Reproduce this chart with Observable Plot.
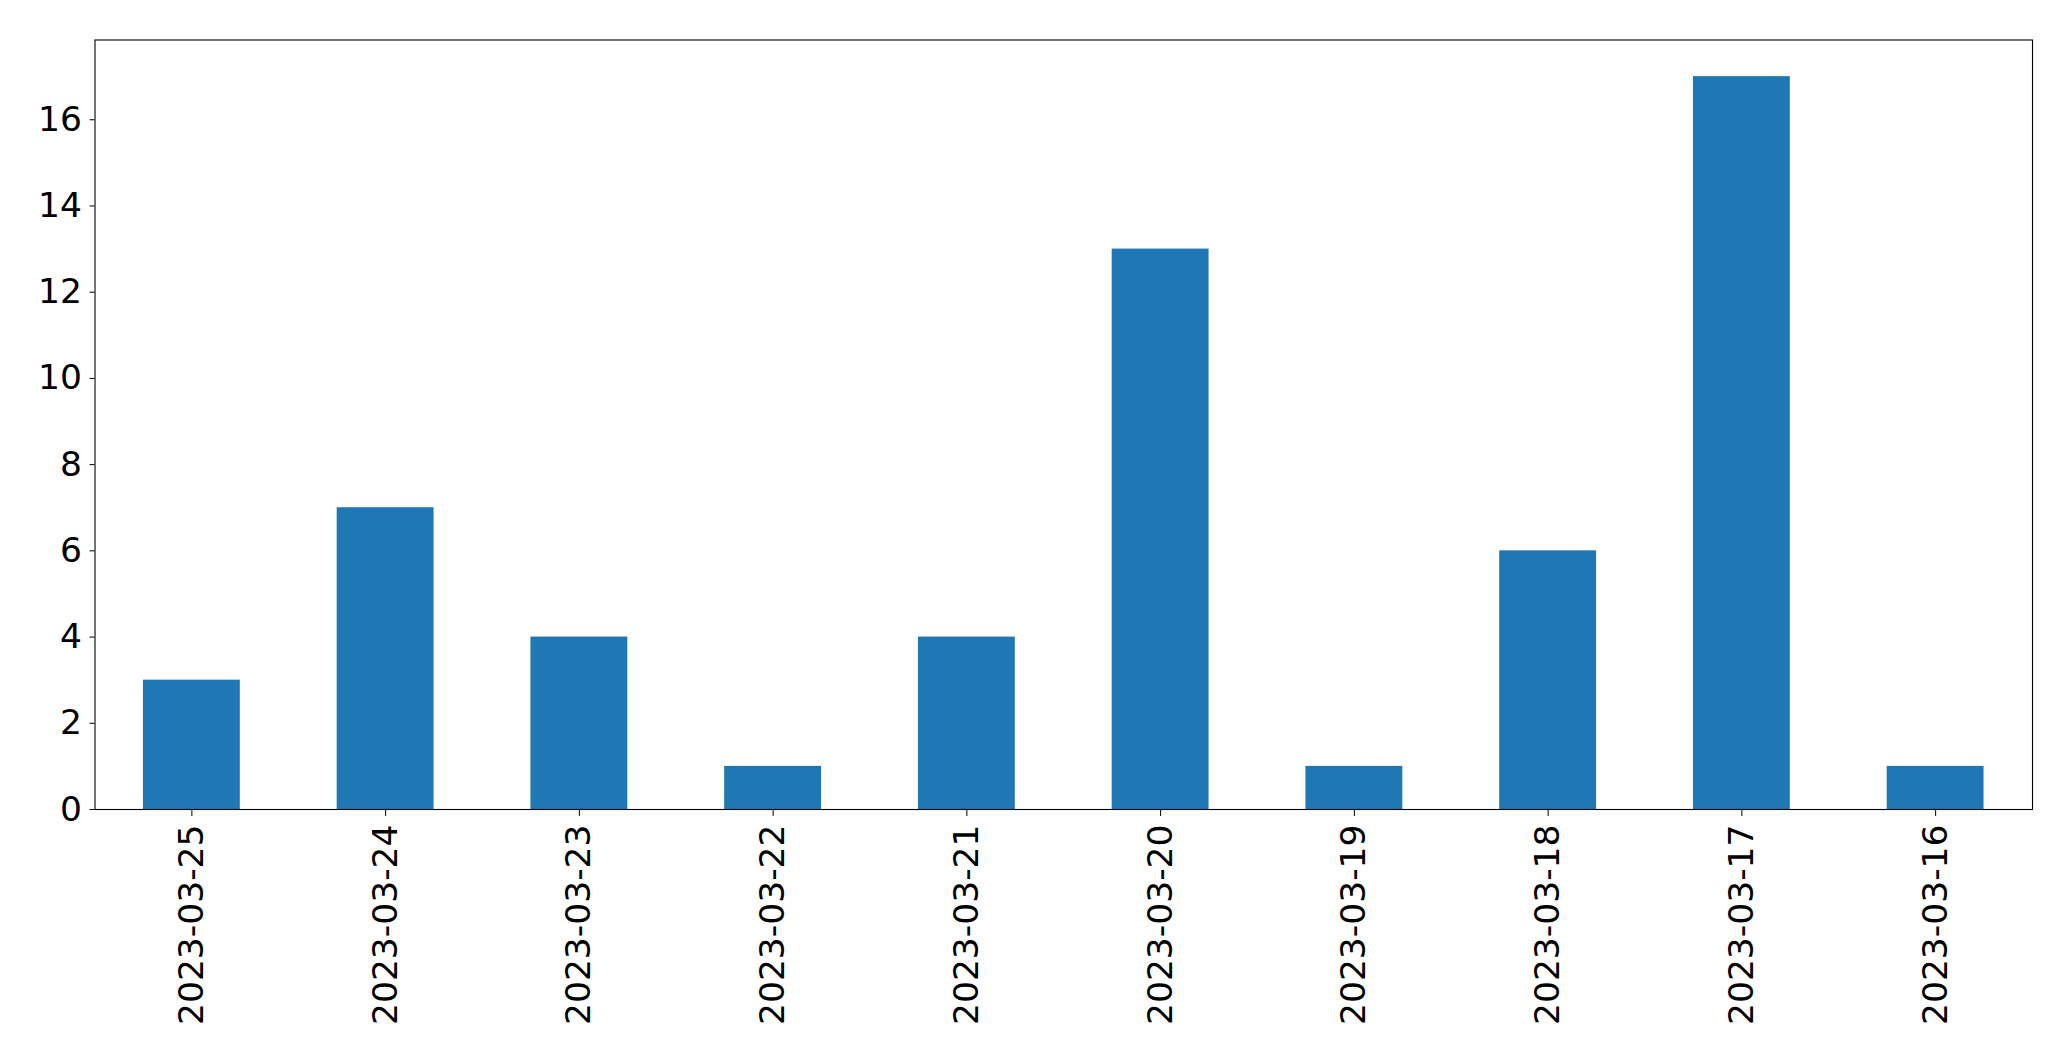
<!DOCTYPE html>
<html>
<head>
<meta charset="utf-8">
<script src="https://cdn.jsdelivr.net/npm/d3@7"></script>
<script src="https://cdn.jsdelivr.net/npm/@observablehq/plot@0.6"></script>
<style>
  html, body { margin: 0; padding: 0; background: #fff; }
  #chart svg { display: block; }
</style>
</head>
<body>
<div id="chart"></div>
<script>
const dates = ["2023-03-25","2023-03-24","2023-03-23","2023-03-22","2023-03-21","2023-03-20","2023-03-19","2023-03-18","2023-03-17","2023-03-16"];
const counts = [3, 7, 4, 1, 4, 13, 1, 6, 17, 1];
const yTicks = [0, 2, 4, 6, 8, 10, 12, 14, 16];

const data = dates.map((d, i) => ({date: d, count: counts[i]}));

const chart = Plot.plot({
  width: 2071,
  height: 1061,
  marginLeft: 94.5,
  marginRight: 39,
  marginTop: 39.5,
  marginBottom: 252,
  style: {fontFamily: "DejaVu Sans", fontSize: "34.5px", color: "#000", background: "#fff", overflow: "visible"},
  x: {domain: dates, paddingInner: 0.5, paddingOuter: 0.25, align: 0.5, round: false},
  y: {domain: [0, 17.85]},
  marks: [
    Plot.barY(data, {x: "date", y: "count", fill: "#1f77b4"}),
    Plot.frame({stroke: "#000", strokeWidth: 1.1}),
    Plot.axisX({tickRotate: -90, tickSize: 7, tickPadding: 8, fontSize: 34.5, label: null, stroke: "#000", fill: "#000"}),
    Plot.axisY({ticks: yTicks, tickSize: 5, tickPadding: 8, fontSize: 34.5, label: null, stroke: "#000", fill: "#000"})
  ]
});
document.getElementById("chart").appendChild(chart);
</script>
</body>
</html>
